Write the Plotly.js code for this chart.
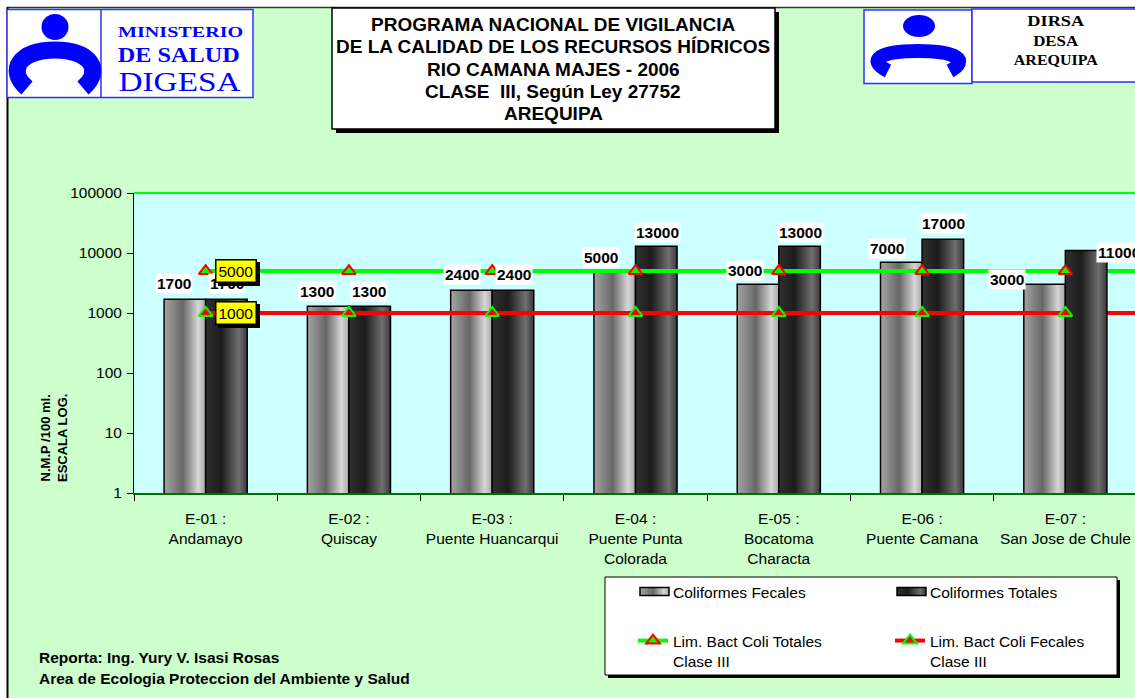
<!DOCTYPE html>
<html><head><meta charset="utf-8">
<script src="https://cdn.plot.ly/plotly-3.0.1.min.js"></script>
<style>html,body{margin:0;padding:0;overflow:hidden;background:#fff}#chart{width:1140px;height:698px}</style>
</head><body><div id="chart"></div>
<script>
// ---------- data ----------
const stations = ['E-01 :<br>Andamayo','E-02 :<br>Quiscay','E-03 :<br>Puente Huancarqui','E-04 :<br>Puente Punta<br>Colorada','E-05 :<br>Bocatoma<br>Characta','E-06 :<br>Puente Camana','E-07 :<br>San Jose de Chule'];
const colifFecales = [1700, 1300, 2400, 5000, 3000, 7000, 3000];
const colifTotales = [1700, 1300, 2400, 13000, 13000, 17000, 11000];
const limColiTotales = [5000, 5000, 5000, 5000, 5000, 5000, 5000];
const limColiFecales = [1000, 1000, 1000, 1000, 1000, 1000, 1000];
const yTickVals = [1, 10, 100, 1000, 10000, 100000];
const yTickText = ['1', '10', '100', '1000', '10000', '100000'];
const seriesNames = ['Coliformes Fecales', 'Coliformes Totales', 'Lim. Bact Coli Totales<br>Clase III', 'Lim. Bact Coli Fecales<br>Clase III'];
const titleLines = ['PROGRAMA NACIONAL DE VIGILANCIA', 'DE LA CALIDAD DE LOS RECURSOS HÍDRICOS', 'RIO CAMANA MAJES - 2006', 'CLASE  III, Según Ley 27752', 'AREQUIPA'];
const footerLines = ['Reporta: Ing. Yury V. Isasi Rosas', 'Area de Ecologia Proteccion del Ambiente y Salud'];

// ---------- styles (label offsets in px) ----------
const fecLabelShift = [[-32,16],[-32,15],[-30,16],[-35,14],[-34,14],[-35,14],[-58,5]];
const totLabelShift = [[21,16],[20,15],[22,16],[22,14],[22,14],[21,16],[54,-2]];
const titleLineY = [24, 46.5, 69, 91.5, 114];

const W = 1140, H = 698, ML = 134, MR = 3, MT = 193, MB = 205;
const PW = W - ML - MR, PH = H - MT - MB;
const px2x = p => (p - ML) / PW;
const py2y = p => (H - MB - p) / PH;
const FONT = 'Liberation Sans, Arial, sans-serif';
const SERIF = 'Liberation Serif, Times New Roman, serif';

function rect(x0, y0, x1, y1, fill, lc, lw, layer) {
  return {type:'rect', xref:'paper', yref:'paper', x0:px2x(x0), x1:px2x(x1), y0:py2y(y0), y1:py2y(y1),
    fillcolor:fill, line:{color:lc || 'rgba(0,0,0,0)', width:lw || 0}, layer: layer || 'above'};
}
function pline(x0, y0, x1, y1, c, w) {
  return {type:'line', xref:'paper', yref:'paper', x0:px2x(x0), x1:px2x(x1), y0:py2y(y0), y1:py2y(y1), line:{color:c, width:w}};
}
function ppath(pts, c, w) {
  const d = pts.replace(/(-?[\d.]+),(-?[\d.]+)/g, (m, a, b) => px2x(+a) + ',' + py2y(+b));
  return {type:'path', xref:'paper', yref:'paper', path:d, line:{color:c, width:w}, fillcolor:'rgba(0,0,0,0)'};
}
function circ(cx, cy, rx, ry, c) {
  return {type:'circle', xref:'paper', yref:'paper', x0:px2x(cx-rx), x1:px2x(cx+rx), y0:py2y(cy+ry), y1:py2y(cy-ry), fillcolor:c, line:{color:c, width:0}};
}
function ann(px, py, text, size, opts) {
  return Object.assign({xref:'paper', yref:'paper', x:px2x(px), y:py2y(py), text:text, showarrow:false,
    xanchor:'center', yanchor:'middle', font:{family:FONT, size:size, color:'#000'}}, opts || {});
}

// ---------- traces ----------
const traces = [
  {type:'bar', name:seriesNames[0], x:stations, y:colifFecales, marker:{color:'#8c8c8c', line:{color:'#000', width:1.5}}, legend:'legend'},
  {type:'bar', name:seriesNames[1], x:stations, y:colifTotales, marker:{color:'#353535', line:{color:'#000', width:1.5}}, legend:'legend2'},
  {type:'scatter', mode:'lines+markers', name:seriesNames[2], x:stations, y:limColiTotales, line:{color:'#00FF00', width:4},
    marker:{symbol:'triangle-up', size:12, color:'#00FF00', line:{color:'#FF0000', width:2}}, legend:'legend3'},
  {type:'scatter', mode:'lines+markers', name:seriesNames[3], x:stations, y:limColiFecales, line:{color:'#FF0000', width:4},
    marker:{symbol:'triangle-up', size:12, color:'#FF0000', line:{color:'#00FF00', width:2}}, legend:'legend4'}
];

// ---------- shapes ----------
const shapes = [
  rect(0, 0, W, 7, '#ffffff', null, 0, 'below'),
  rect(0, 0, 7, H, '#ffffff', null, 0, 'below'),
  pline(7, 7.5, W, 7.5, '#333', 1.5),
  pline(7.5, 7, 7.5, H, '#000', 2),
  {type:'line', xref:'paper', yref:'paper', x0:0, x1:1, y0:1, y1:1, line:{color:'#00FF00', width:2}},
  {type:'line', xref:'x', yref:'y', x0:stations.length-1, x1:stations.length-0.5, y0:limColiTotales[6], y1:limColiTotales[6], line:{color:'#00FF00', width:4}, layer:'below'},
  {type:'line', xref:'x', yref:'y', x0:stations.length-1, x1:stations.length-0.5, y0:limColiFecales[6], y1:limColiFecales[6], line:{color:'#FF0000', width:4}, layer:'below'},
  // left logo
  rect(7, 9.5, 253, 97.5, '#ffffff', '#3030ff', 1.5),
  pline(101, 9.5, 101, 97.5, '#3030ff', 1.5),
  circ(55, 27, 13.5, 13, '#0000ff'),
  ppath('M 27,88 C 6,70 20,50 55,50 C 90,50 104,70 83,88', '#0000ff', 17),
  // right logo
  rect(864, 10, 972, 83.5, '#ffffff', '#3030ff', 1.5),
  rect(972, 9, 1160, 82, '#ffffff', '#3030ff', 1.5),
  circ(919, 26, 16, 11, '#0000ff'),
  ppath('M 888,71 C 866,60 880,51 918,51 C 956,51 970,60 950,71', '#0000ff', 14),
  // title box with shadow
  rect(336, 12, 779, 133, '#000', null, 0),
  rect(332, 8, 775, 129, '#ffffff', '#000', 1.5),
  // legend box with shadow
  rect(608, 580, 1120, 678, '#000', null, 0),
  rect(605, 577, 1117, 675, '#ffffff', '#000', 1)
];

// ---------- annotations ----------
const annotations = [];
titleLines.forEach((t, i) => annotations.push(ann(553, titleLineY[i], t, 19, {font:{family:FONT, size:19, color:'#000', weight:'bold'}})));
annotations.push(ann(180, 33, 'MINISTERIO', 14, {font:{family:SERIF, size:14, color:'#0000ff', weight:'bold'}}));
annotations.push(ann(179, 55, 'DE SALUD', 21, {font:{family:SERIF, size:21, color:'#0000ff', weight:'bold'}}));
annotations.push(ann(179, 82, 'DIGESA', 27, {font:{family:SERIF, size:27, color:'#0000ff'}}));
annotations.push(ann(1056, 22, 'DIRSA', 14, {font:{family:SERIF, size:14, color:'#000', weight:'bold'}}));
annotations.push(ann(1056, 41.5, 'DESA', 14, {font:{family:SERIF, size:14, color:'#000', weight:'bold'}}));
annotations.push(ann(1056, 60, 'AREQUIPA', 14, {font:{family:SERIF, size:14, color:'#000', weight:'bold'}}));
annotations.push(ann(54, 438, 'N.M.P /100 ml.<br>ESCALA LOG.', 13, {textangle:-90, font:{family:FONT, size:13, color:'#000', weight:'bold'}}));
annotations.push(ann(37, 657, footerLines[0], 15.5, {xanchor:'left', font:{family:FONT, size:15.5, color:'#000', weight:'bold'}}));
annotations.push(ann(37, 678, footerLines[1], 15.5, {xanchor:'left', font:{family:FONT, size:15.5, color:'#000', weight:'bold'}}));

function dataLabel(i, val, shift) {
  return {xref:'x', yref:'y', x:stations[i], y:Math.log10(val), text:String(val), showarrow:false,
    xanchor:'center', yanchor:'middle', xshift:shift[0], yshift:shift[1], bgcolor:'#ffffff', borderpad:1,
    font:{family:FONT, size:15.5, color:'#000', weight:'bold'}};
}
for (let i = 0; i < stations.length; i++) {
  annotations.push(dataLabel(i, colifFecales[i], fecLabelShift[i]));
  annotations.push(dataLabel(i, colifTotales[i], totLabelShift[i]));
}
function valueBox(val, shadow) {
  return {xref:'x', yref:'y', x:stations[0], y:Math.log10(val), text:String(val), showarrow:false,
    xanchor:'center', yanchor:'middle', xshift: shadow ? 33 : 30, yshift: shadow ? -3 : 0,
    bgcolor: shadow ? '#000' : '#FFFF00', bordercolor:'#000', borderwidth:1.5, borderpad:2,
    font:{family:FONT, size:15.5, color:'#000'}};
}
annotations.push(valueBox(limColiTotales[0], true), valueBox(limColiTotales[0], false));
annotations.push(valueBox(limColiFecales[0], true), valueBox(limColiFecales[0], false));

const legFont = {family:FONT, size:15.5, color:'#000'};
function leg(px, py) {
  return {x:px2x(px), y:py2y(py), xanchor:'left', yanchor:'top', bgcolor:'rgba(0,0,0,0)', borderwidth:0,
    font:legFont, valign:'top', orientation:'v'};
}

const layout = {
  width:W, height:H, margin:{l:ML, r:MR, t:MT, b:MB, pad:0},
  paper_bgcolor:'#CCFFCC', plot_bgcolor:'#CCFFFF',
  barmode:'group', bargap:0.42, bargroupgap:0,
  showlegend:true,
  legend:leg(633, 575), legend2:leg(890, 575), legend3:leg(633, 624), legend4:leg(890, 624),
  xaxis:{type:'category', tickson:'boundaries', ticks:'outside', ticklen:6, tickcolor:'#000', tickwidth:1,
    showline:true, linecolor:'#007000', linewidth:2, showgrid:false, zeroline:false,
    tickfont:{family:FONT, size:15.5, color:'#000'}, ticklabelstandoff:10, fixedrange:true, range:[-0.5, 6.5]},
  yaxis:{type:'log', range:[0, 5], tickvals:yTickVals, ticktext:yTickText, ticks:'outside', ticklen:6,
    tickcolor:'#000', showline:true, linecolor:'#000', linewidth:1, showgrid:false, zeroline:false,
    tickfont:{family:FONT, size:15.5, color:'#000'}, ticklabelstandoff:2, fixedrange:true},
  shapes:shapes, annotations:annotations
};

Plotly.newPlot('chart', traces, layout, {displayModeBar:false, staticPlot:true}).then(gd => {
  const NS = 'http://www.w3.org/2000/svg';
  const svg = gd.querySelector('svg.main-svg');
  let defs = svg.querySelector('defs');
  if (!defs) { defs = document.createElementNS(NS, 'defs'); svg.insertBefore(defs, svg.firstChild); }
  function grad(id, stops) {
    const g = document.createElementNS(NS, 'linearGradient');
    g.setAttribute('id', id); g.setAttribute('x1', '0'); g.setAttribute('x2', '1'); g.setAttribute('y1', '0'); g.setAttribute('y2', '0');
    stops.forEach(s => { const st = document.createElementNS(NS, 'stop'); st.setAttribute('offset', s[0]); st.setAttribute('stop-color', s[1]); g.appendChild(st); });
    defs.appendChild(g);
  }
  grad('gFec', [[0, '#a4a4a4'], [0.45, '#676767'], [0.82, '#d6d6d6'], [1, '#a6a6a6']]);
  grad('gTot', [[0, '#303030'], [0.38, '#1c1c1c'], [0.8, '#6e6e6e'], [1, '#3a3a3a']]);
  const barTraces = gd.querySelectorAll('.barlayer .trace');
  barTraces.forEach((t, k) => t.querySelectorAll('.point path').forEach(p => { p.style.fill = k === 0 ? 'url(#gFec)' : 'url(#gTot)'; }));
  let bi = 0;
  gd.querySelectorAll('.legendpoints path').forEach(p => {
    const d = p.getAttribute('d') || '';
    if (d.indexOf('M6,6') === 0) {
      p.setAttribute('d', 'M16,4H-13V-4H16Z');
      p.style.fill = bi === 0 ? 'url(#gFec)' : 'url(#gTot)';
      p.style.strokeWidth = '1.5px';
      bi++;
    }
  });
  // stretched lettering of the two logos only (serif texts)
  const lens = {'MINISTERIO':125, 'DE SALUD':122, 'DIGESA':122, 'DIRSA':57, 'DESA':45, 'AREQUIPA':84};
  gd.querySelectorAll('text.annotation-text').forEach(t => {
    const fam = (t.style.fontFamily || t.getAttribute('font-family') || '');
    if (fam.indexOf('Serif') < 0) return;
    const L = lens[t.textContent];
    if (L) { t.setAttribute('textLength', L); t.setAttribute('lengthAdjust', 'spacingAndGlyphs'); }
  });
});
</script>
</body></html>
